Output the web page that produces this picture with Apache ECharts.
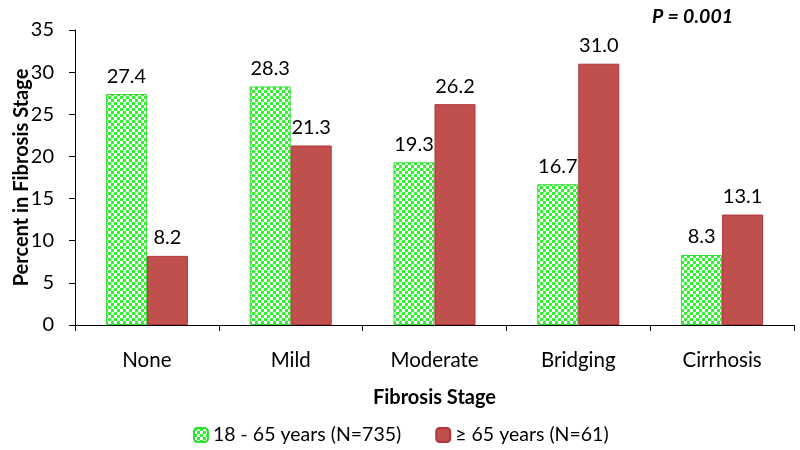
<!DOCTYPE html>
<html>
<head>
<meta charset="utf-8">
<script src="https://cdn.jsdelivr.net/npm/echarts@6/dist/echarts.min.js"></script>
<style>html,body{margin:0;padding:0;background:#fff;}#c{width:800px;height:450px;}</style>
</head>
<body>
<div id="c"></div>
<script>
const categories = ['None', 'Mild', 'Moderate', 'Bridging', 'Cirrhosis'];
const youngValues = [27.4, 28.3, 19.3, 16.7, 8.3];
const oldValues = [8.2, 21.3, 26.2, 31.0, 13.1];
const seriesNames = ['18 - 65 years (N=735)', '\u2265 65 years (N=61)'];
const yTicks = [0, 5, 10, 15, 20, 25, 30, 35];

const cv = document.createElement('canvas');
cv.width = 6; cv.height = 6;
const cx = cv.getContext('2d');
cx.fillStyle = '#ffffff'; cx.fillRect(0, 0, 6, 6);
cx.fillStyle = '#2cf52c';
cx.fillRect(0, 0, 3, 3);
cx.fillRect(3, 3, 3, 3);

const FONT = 'Lato';
const chart = echarts.init(document.getElementById('c'), null, {renderer: 'canvas'});
const labelCfg = {show: true, position: 'top', distance: 8, color: '#000', fontSize: 20, fontFamily: FONT,
  formatter: p => p.value.toFixed(1)};
chart.setOption({
  animation: false,
  backgroundColor: '#fff',
  textStyle: {fontFamily: FONT},
  title: {text: 'P = 0.001', right: 62, top: 2,
    textStyle: {fontSize: 19.5, fontWeight: 'bold', fontStyle: 'italic', color: '#000', fontFamily: FONT}},
  legend: {bottom: 0, left: 188, itemWidth: 14, itemHeight: 14, itemGap: 34,
    textStyle: {fontSize: 19.5, color: '#000', fontFamily: FONT}, data: seriesNames},
  grid: {left: 75, right: 6, top: 30, bottom: 125, containLabel: false, outerBoundsMode: 'none'},
  xAxis: {type: 'category', data: categories, name: 'Fibrosis Stage', nameLocation: 'middle', nameGap: 63,
    nameMoveOverlap: false,
    nameTextStyle: {fontSize: 20, fontWeight: 'bold', color: '#000', fontFamily: FONT},
    axisLine: {lineStyle: {color: '#000', width: 1}},
    axisTick: {show: true, length: 6, lineStyle: {color: '#000'}},
    axisLabel: {fontSize: 20.5, color: '#000', margin: 25, fontFamily: FONT}},
  yAxis: {type: 'value', min: yTicks[0], max: yTicks[yTicks.length - 1], interval: 5,
    name: 'Percent in Fibrosis Stage', nameLocation: 'middle', nameGap: 43, nameRotate: 90,
    nameMoveOverlap: false,
    nameTextStyle: {fontSize: 20, fontWeight: 'bold', color: '#000', fontFamily: FONT},
    axisLine: {show: true, lineStyle: {color: '#000', width: 1}},
    axisTick: {show: true, length: 6, inside: false, lineStyle: {color: '#000'}},
    splitLine: {show: false},
    axisLabel: {fontSize: 20, color: '#000', margin: 21, fontFamily: FONT}},
  series: [
    {name: seriesNames[0], type: 'bar', data: youngValues, barWidth: 41, barGap: '0%',
      itemStyle: {color: {image: cv, repeat: 'repeat'}, borderColor: '#2ee02e', borderWidth: 1},
      label: labelCfg},
    {name: seriesNames[1], type: 'bar', data: oldValues, barWidth: 41, barGap: '0%',
      itemStyle: {color: '#c0504d', borderColor: '#b3333a', borderWidth: 1},
      label: labelCfg}
  ]
});
</script>
</body>
</html>
